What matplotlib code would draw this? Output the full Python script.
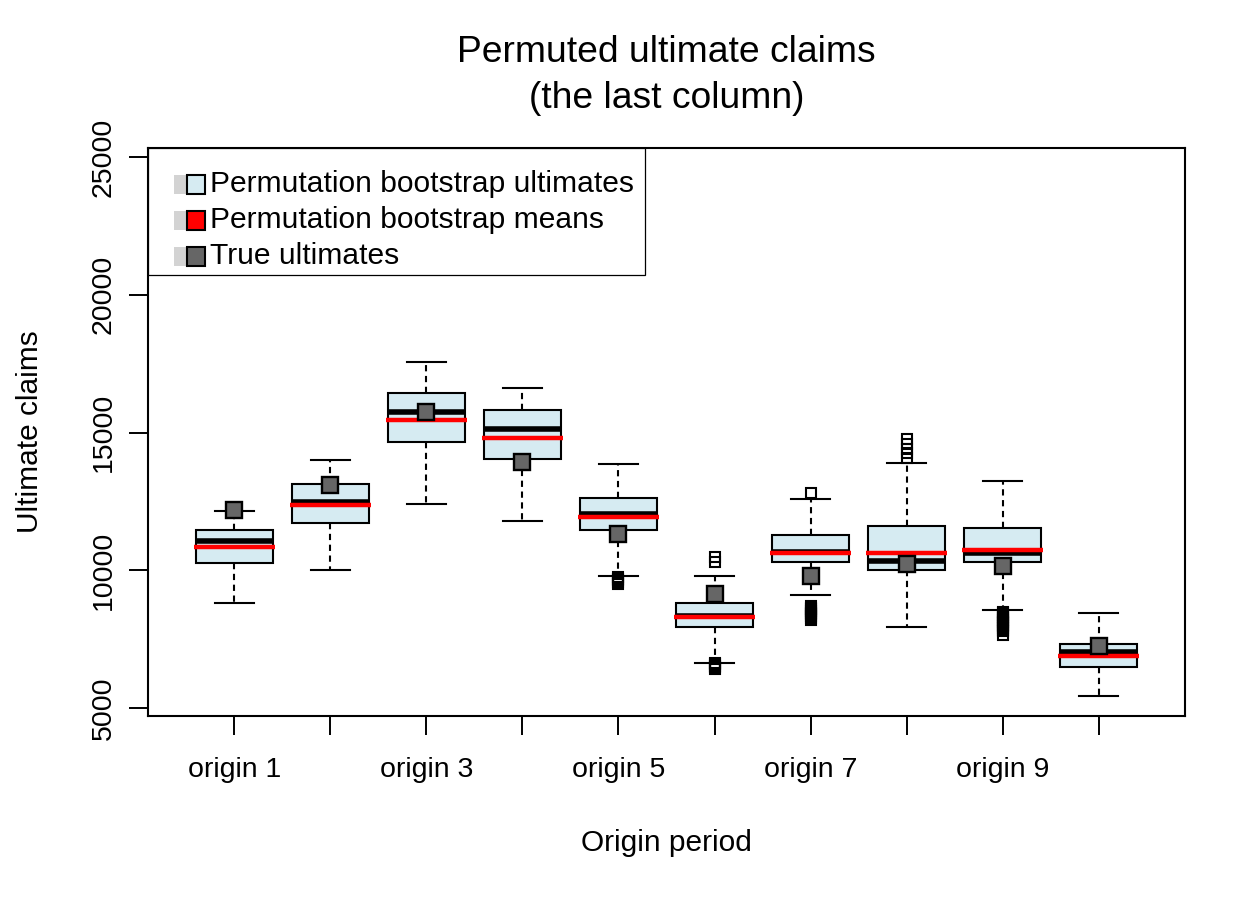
import matplotlib
matplotlib.use("Agg")
import matplotlib.pyplot as plt
from matplotlib.patches import Rectangle

plt.rcParams['font.family'] = ['Liberation Sans', 'DejaVu Sans']

# Valores (una caja por origen)
origins = ["origin %d" % i for i in range(1, 11)]
q1 = [10270, 11730, 14670, 14030, 11460, 7945, 10300, 10010, 10310, 6490]
medians = [11070, 12490, 15740, 15130, 12050, 8330, 10660, 10345, 10610, 7050]
q3 = [11480, 13120, 16430, 15810, 12610, 8830, 11265, 11595, 11535, 7340]
whis_lo = [8820, 10020, 12420, 11800, 9800, 6640, 9120, 7955, 8575, 5435]
whis_hi = [12165, 13995, 17545, 16635, 13870, 9810, 12575, 13900, 13245, 8455]
boot_means = [10855, 12355, 15470, 14790, 11945, 8320, 10645, 10635, 10745, 6900]
true_ult = [12200, 13090, 15750, 13935, 11320, 9140, 9790, 10225, 10155, 7245]
outliers = [
    [],
    [],
    [],
    [],
    [9516, 9570, 9630, 9690, 9745],
    [6425, 6480, 6530, 6580, 6620, 10290, 10480],
    [8182, 8280, 8340, 8400, 8460, 8520, 8580, 8640, 8691, 12800],
    [14060, 14240, 14420, 14600, 14775],
    [7660, 7782, 7840, 7900, 7960, 8020, 8080, 8140, 8200, 8260, 8320, 8380, 8440, 8484],
    [],
]

legend_labels = ["Permutation bootstrap ultimates", "Permutation bootstrap means", "True ultimates"]

box_color = "#d6ebf2"
true_color = "#666666"

fig = plt.figure(figsize=(12.6, 9), dpi=100)
ax = fig.add_axes([148 / 1260, 1 - 716 / 900, 1037 / 1260, 568 / 900])

positions = list(range(1, len(origins) + 1))
stats = []
for i in range(len(origins)):
    stats.append({
        "q1": q1[i], "med": medians[i], "q3": q3[i],
        "whislo": whis_lo[i], "whishi": whis_hi[i],
        "fliers": outliers[i], "label": origins[i],
    })

# cajas (outliers como cuadrados abiertos, igual que pch=0 en R)
ax.bxp(stats, positions=positions, widths=0.8, patch_artist=True,
       showfliers=True,
       boxprops=dict(facecolor=box_color, edgecolor="black", linewidth=1.5),
       medianprops=dict(color="black", linewidth=4, solid_capstyle="butt"),
       whiskerprops=dict(color="black", linewidth=1.5, linestyle=(0, (3, 2.2))),
       capprops=dict(color="black", linewidth=1.5),
       capwidths=0.4,
       flierprops=dict(marker="s", markersize=7.9, markerfacecolor="none",
                       markeredgecolor="black", markeredgewidth=1.5, linestyle="none"))

# medias bootstrap (linea roja)
ax.hlines(boot_means, [p - 0.42 for p in positions], [p + 0.42 for p in positions],
          colors="red", linewidth=3.2, zorder=4)

# ultimates verdaderos
ax.plot(positions, true_ult, linestyle="none", marker="s", markersize=11.6,
        markerfacecolor=true_color, markeredgecolor="black", markeredgewidth=1.7, zorder=5)

ax.set_xlim(0.1, 10.9)
ax.set_ylim(4710, 25330)
ax.set_xticks(positions)
ax.set_xticklabels([lab if i % 2 == 0 else "" for i, lab in enumerate(origins)], fontsize=20.5)
ax.set_yticks([5000, 10000, 15000, 20000, 25000])
ax.set_yticklabels(["5000", "10000", "15000", "20000", "25000"], fontsize=20.5,
                   rotation=90, va="center", ha="right")
ax.tick_params(axis="both", length=13.5, width=1.4, color="black")
ax.tick_params(axis="x", pad=16)
ax.tick_params(axis="y", pad=9)
for s in ax.spines.values():
    s.set_linewidth(1.5)

# leyenda (a mano, como la de R)
leg_w = (645 - 148) / 1037
leg_h = (275 - 148) / 568
ax.add_patch(Rectangle((0, 1 - leg_h), leg_w, leg_h, transform=ax.transAxes,
                       facecolor="white", edgecolor="black", linewidth=0.9,
                       zorder=10, clip_on=False))
row_y = [184, 220, 256]
fills = [box_color, "red", true_color]
sq_h = 19 / 568
for k in range(3):
    yc = (716 - row_y[k]) / 568
    ax.add_patch(Rectangle(((174 - 148) / 1037, yc - sq_h / 2), 12.5 / 1037, sq_h,
                           transform=ax.transAxes, facecolor="#d3d3d3",
                           edgecolor="none", zorder=11, clip_on=False))
    ax.add_patch(Rectangle(((187 - 148) / 1037, yc - sq_h / 2), 18 / 1037, sq_h,
                           transform=ax.transAxes, facecolor=fills[k],
                           edgecolor="black", linewidth=1.5, zorder=12, clip_on=False))
    ax.text((210 - 148) / 1037, yc, legend_labels[k], transform=ax.transAxes,
            fontsize=21.6, va="center", ha="left", zorder=13)

fig.text(666.5 / 1260, 1 - 75.5 / 900, "Permuted ultimate claims\n(the last column)",
         ha="center", va="center", fontsize=26.8, linespacing=1.38)
fig.text(30 / 1260, 1 - 432 / 900, "Ultimate claims", rotation=90,
         ha="center", va="center", fontsize=21.5)
fig.text(666.5 / 1260, 1 - 843 / 900, "Origin period", ha="center", va="center", fontsize=21.5)

fig.savefig("out.png", dpi=100)
